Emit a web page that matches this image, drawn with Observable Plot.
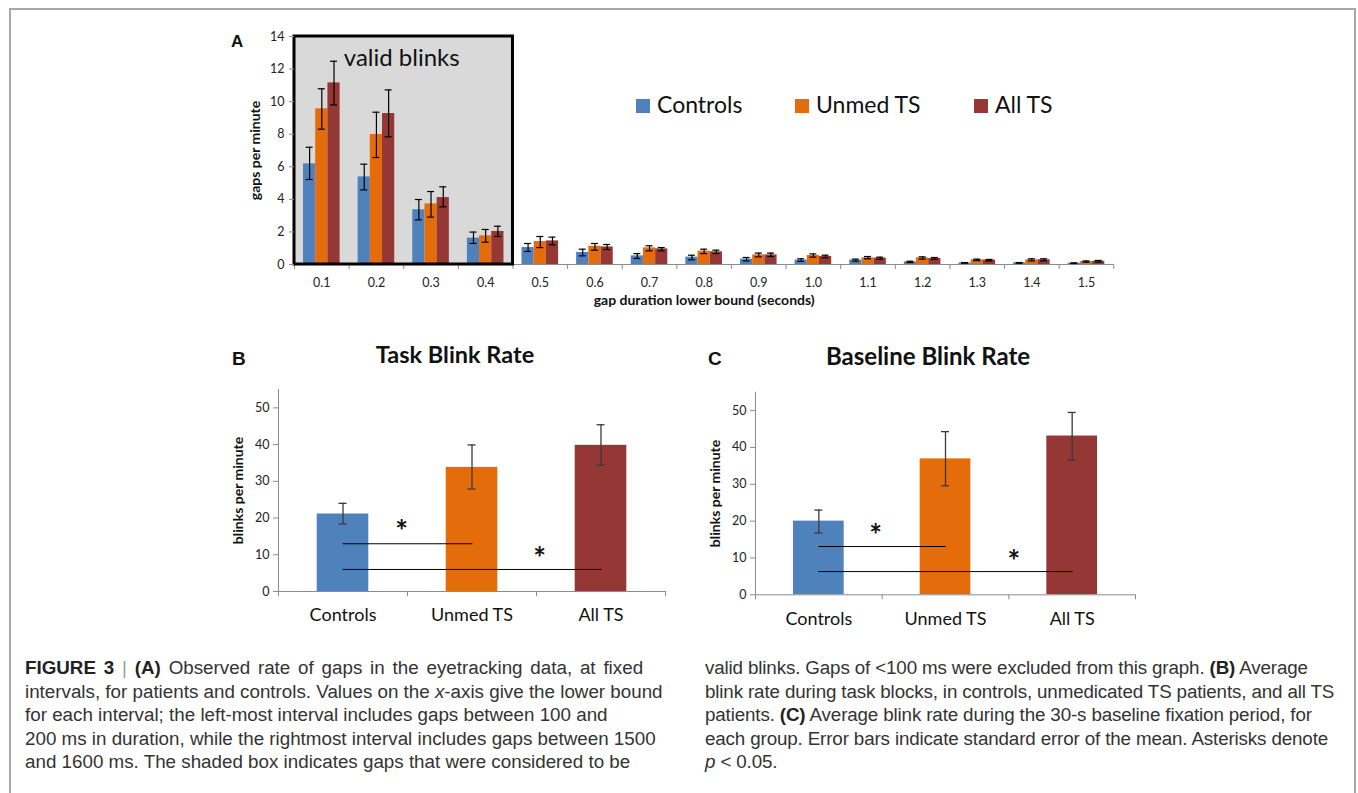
<!DOCTYPE html>
<html>
<head>
<meta charset="utf-8">
<script src="https://cdn.jsdelivr.net/npm/d3@7"></script>
<script src="https://cdn.jsdelivr.net/npm/@observablehq/plot@0.6"></script>
<style>
  body { margin: 0; background: #fff; }
  #page { position: relative; width: 1358px; height: 793px; overflow: hidden; background: #fff; font-family: Lato, sans-serif; }
  .abs { position: absolute; }
  .letter { position: absolute; font-family: "Liberation Sans", Arial, sans-serif; font-weight: bold; line-height: 1; color: #111; }
  .ptitle { position: absolute; font-family: Lato, sans-serif; font-weight: bold; line-height: 1.2; text-align: center; color: #111; white-space: nowrap; }
  .legitem { position: absolute; font-family: Lato, sans-serif; font-size: 23px; line-height: 1.2; color: #111; white-space: nowrap; }
  .legitem .sw { display: inline-block; width: 14px; height: 14px; margin-right: 7px; vertical-align: 0px; }
  .cap { position: absolute; font-family: "Liberation Sans", Arial, sans-serif; font-size: 18.8px; line-height: 23.5px; color: #333; white-space: nowrap; }
  .cap b { color: #222; }
  .cap .bar { color: #999; font-weight: normal; }
  svg { overflow: visible; }
</style>
</head>
<body>
<div id="page">
  <div class="abs" style="left:9px;top:8px;width:1343px;height:820px;border:2px solid #a8a8a8;"></div>

  <div class="letter" style="left:231px;top:33px;font-size:17px;">A</div>
  <div id="chartA" class="abs" style="left:200px;top:20px;"></div>
  <div id="legendA"></div>

  <div class="letter" style="left:232px;top:349px;font-size:19px;">B</div>
  <div class="ptitle" style="left:355px;top:340px;width:200px;font-size:23.5px;">Task Blink Rate</div>
  <div id="chartB" class="abs" style="left:200px;top:370px;"></div>

  <div class="letter" style="left:708px;top:349px;font-size:19px;">C</div>
  <div class="ptitle" style="left:826px;top:342px;width:200px;font-size:24px;">Baseline Blink Rate</div>
  <div id="chartC" class="abs" style="left:680px;top:370px;"></div>

  <div class="cap" style="left:25px;top:656px;">
    <div style="word-spacing:2.6px;"><b>FIGURE 3</b> <span class="bar">|</span> <b>(A)</b> Observed rate of gaps in the eyetracking data, at fixed</div>
    <div>intervals, for patients and controls. Values on the <i>x</i>-axis give the lower bound</div>
    <div>for each interval; the left-most interval includes gaps between 100 and</div>
    <div>200 ms in duration, while the rightmost interval includes gaps between 1500</div>
    <div>and 1600 ms. The shaded box indicates gaps that were considered to be</div>
  </div>
  <div class="cap" style="left:705px;top:656px;letter-spacing:-0.14px;">
    <div>valid blinks. Gaps of &lt;100 ms were excluded from this graph. <b>(B)</b> Average</div>
    <div>blink rate during task blocks, in controls, unmedicated TS patients, and all TS</div>
    <div>patients. <b>(C)</b> Average blink rate during the 30-s baseline fixation period, for</div>
    <div>each group. Error bars indicate standard error of the mean. Asterisks denote</div>
    <div><i>p</i> &lt; 0.05.</div>
  </div>
</div>
<script>
// ---------------- DATA ----------------
const bins = ["0.1","0.2","0.3","0.4","0.5","0.6","0.7","0.8","0.9","1.0","1.1","1.2","1.3","1.4","1.5"];
const groups = ["Controls", "Unmed TS", "All TS"];
const groupColors = ["#4F81BD", "#E46C0A", "#953735"];

// Panel A: gaps per minute (mean, lower and upper error bar ends)
const controlsMean = [6.18, 5.38, 3.36, 1.62, 1.04, 0.74, 0.53, 0.45, 0.33, 0.27, 0.27, 0.16, 0.10, 0.10, 0.08];
const controlsLow  = [5.22, 4.58, 2.74, 1.29, 0.80, 0.53, 0.37, 0.29, 0.22, 0.20, 0.20, 0.12, 0.08, 0.08, 0.06];
const controlsHigh = [7.20, 6.16, 3.99, 1.99, 1.29, 0.94, 0.67, 0.57, 0.43, 0.35, 0.33, 0.20, 0.12, 0.12, 0.10];
const unmedMean = [9.56, 7.98, 3.72, 1.76, 1.41, 1.12, 1.02, 0.82, 0.59, 0.55, 0.41, 0.41, 0.29, 0.29, 0.18];
const unmedLow  = [8.31, 6.57, 2.91, 1.37, 1.04, 0.88, 0.84, 0.67, 0.47, 0.45, 0.35, 0.33, 0.24, 0.22, 0.14];
const unmedHigh = [10.79, 9.35, 4.48, 2.15, 1.72, 1.29, 1.15, 0.94, 0.70, 0.65, 0.49, 0.47, 0.33, 0.35, 0.22];
const allMean = [11.15, 9.27, 4.11, 2.03, 1.45, 1.08, 0.96, 0.78, 0.59, 0.49, 0.39, 0.37, 0.27, 0.29, 0.20];
const allLow  = [9.80, 7.84, 3.54, 1.72, 1.21, 0.92, 0.84, 0.67, 0.49, 0.41, 0.32, 0.31, 0.22, 0.22, 0.15];
const allHigh = [12.48, 10.72, 4.77, 2.35, 1.68, 1.23, 1.04, 0.88, 0.70, 0.57, 0.45, 0.43, 0.31, 0.35, 0.25];
const yTicksA = [0, 2, 4, 6, 8, 10, 12, 14];
const validBox = [{from: "0.1", to: "0.4", low: 0, high: 14}];  // shaded "valid blinks" box: bins 0.1 – 0.4
const validLabel = [{bin: "0.2", y: 12.65, label: "valid blinks"}];

// Panel B: task blink rate
const taskMean = [21.1, 33.8, 39.8];
const taskLow  = [18.4, 27.9, 34.4];
const taskHigh = [24.0, 39.9, 45.4];
const taskSigFrom = ["Controls", "Controls"];
const taskSigTo = ["Unmed TS", "All TS"];
const taskSigY = [13.0, 6.0];
const taskStarAt = ["Controls", "Unmed TS"];
const taskStarY = [17.9, 10.7];

// Panel C: baseline blink rate
const baseMean = [20.0, 36.9, 43.1];
const baseLow  = [16.8, 29.6, 36.6];
const baseHigh = [23.0, 44.3, 49.5];
const baseSigFrom = ["Controls", "Controls"];
const baseSigTo = ["Unmed TS", "All TS"];
const baseSigY = [13.1, 6.3];
const baseStarAt = ["Controls", "Unmed TS"];
const baseStarY = [17.8, 10.6];
const yTicksBC = [0, 10, 20, 30, 40, 50];

// ---------------- PANEL A ----------------
const meansA = [controlsMean, unmedMean, allMean];
const lowsA = [controlsLow, unmedLow, allLow];
const highsA = [controlsHigh, unmedHigh, allHigh];
const rowsA = [];
groups.forEach((g, gi) => bins.forEach((b, i) => rowsA.push({bin: b, group: g, gi, mean: meansA[gi][i], lo: lowsA[gi][i], hi: highsA[gi][i]})));

const WA = 960, HA = 300, mlA = 94, mrA = 46.7, mtA = 16, mbA = 56;
const bandA = (WA - mlA - mrA) / bins.length;
const barW = 12.2, capA = 7;
const textColor = "#222", axisGray = "#8c8c8c";

const barMarksA = groups.flatMap((g, gi) => {
  const off = (gi - 1) * barW;
  const data = rowsA.filter(d => d.gi === gi);
  const il = bandA / 2 + off - barW / 2;
  return [
    Plot.barY(data, {x: "bin", y: "mean", fill: groupColors[gi], insetLeft: il, insetRight: bandA - il - barW}),
    Plot.ruleX(data, {x: "bin", y1: "lo", y2: "hi", dx: off, stroke: "#000", strokeWidth: 1.2}),
    Plot.tickY(data, {x: "bin", y: "lo", insetLeft: bandA / 2 + off - capA / 2, insetRight: bandA / 2 - off - capA / 2, stroke: "#000", strokeWidth: 1.2}),
    Plot.tickY(data, {x: "bin", y: "hi", insetLeft: bandA / 2 + off - capA / 2, insetRight: bandA / 2 - off - capA / 2, stroke: "#000", strokeWidth: 1.2})
  ];
});

const chartA = Plot.plot({
  width: WA, height: HA,
  marginLeft: mlA, marginRight: mrA, marginTop: mtA, marginBottom: mbA,
  x: {type: "band", domain: bins, padding: 0, round: false, label: null},
  y: {domain: [0, 14], label: null},
  style: {fontFamily: "Lato, sans-serif", fontSize: "12.5px", color: textColor, background: "transparent", overflow: "visible"},
  marks: [
    Plot.rect(validBox, {x1: "from", x2: "to", y1: "low", y2: "high", fill: "#d9d9d9"}),
    Plot.ruleY([0], {stroke: axisGray}),
    Plot.axisX({tickSize: 5, tickFormat: () => "", dx: -bandA / 2, stroke: axisGray, label: null}),
    Plot.axisX({ticks: [bins[bins.length - 1]], tickSize: 5, tickFormat: () => "", dx: bandA / 2, stroke: axisGray, label: null}),
    ...barMarksA,
    Plot.rect(validBox, {x1: "from", x2: "to", y1: "low", y2: "high", fill: "none", stroke: "#000", strokeWidth: 3}),
    Plot.text(validLabel, {x: "bin", y: "y", text: "label", dx: bandA / 2 - 2, fontSize: 24, fill: "#111"}),
    Plot.axisY({ticks: yTicksA, tickSize: 5, tickPadding: 5, stroke: axisGray, fill: textColor, label: null}),
    Plot.axisX({tickSize: 0, tickPadding: 14, fill: textColor, label: null}),
    Plot.text(["gaps per minute"], {text: d => d, frameAnchor: "left", textAnchor: "middle", lineAnchor: "middle", rotate: -90, dx: -39, fontWeight: "bold", fontSize: 14, fill: "#111"}),
    Plot.text(["gap duration lower bound (seconds)"], {text: d => d, frameAnchor: "bottom", textAnchor: "middle", lineAnchor: "middle", dy: 36, fontWeight: "bold", fontSize: 14, fill: "#111"})
  ]
});
document.getElementById("chartA").append(chartA);

// Legend (inside panel A)
const legendLefts = [636, 795, 974];
const legend = document.getElementById("legendA");
groups.forEach((g, i) => {
  const item = document.createElement("div");
  item.className = "legitem";
  item.style.left = legendLefts[i] + "px";
  item.style.top = "91px";
  item.innerHTML = `<span class="sw" style="background:${groupColors[i]}"></span>${g}`;
  legend.append(item);
});

// ---------------- PANELS B & C ----------------
function groupChart({means, lows, highs, sigFrom, sigTo, sigY, starAt, starY, width, height, ml, mr, mt, mb, starDx}) {
  const rows = groups.map((g, i) => ({group: g, mean: means[i], lo: lows[i], hi: highs[i]}));
  const sigPoints = sigFrom.flatMap((f, i) => [{id: i, group: f, y: sigY[i]}, {id: i, group: sigTo[i], y: sigY[i]}]);
  const stars = starAt.map((g, i) => ({group: g, y: starY[i], i}));
  const step = (width - ml - mr) / groups.length;
  const cap = 8;
  return Plot.plot({
    width, height, marginLeft: ml, marginRight: mr, marginTop: mt, marginBottom: mb,
    x: {type: "band", domain: groups, padding: 0, round: false, label: null},
    y: {domain: [0, 55], label: null},
    color: {domain: groups, range: groupColors},
    style: {fontFamily: "Lato, sans-serif", fontSize: "12.5px", color: textColor, background: "transparent", overflow: "visible"},
    marks: [
      Plot.barY(rows, {x: "group", y: "mean", fill: "group", insetLeft: 0.3 * step, insetRight: 0.3 * step}),
      Plot.ruleY([0], {stroke: axisGray}),
      Plot.ruleX([groups[0]], {dx: -step / 2, stroke: axisGray}),
      Plot.axisX({tickSize: 5, tickFormat: () => "", dx: -step / 2, stroke: axisGray, label: null}),
      Plot.axisX({ticks: [groups[groups.length - 1]], tickSize: 5, tickFormat: () => "", dx: step / 2, stroke: axisGray, label: null}),
      Plot.ruleX(rows, {x: "group", y1: "lo", y2: "hi", stroke: "#3a3a3a", strokeWidth: 1.3}),
      Plot.tickY(rows, {x: "group", y: "lo", insetLeft: step / 2 - cap / 2, insetRight: step / 2 - cap / 2, stroke: "#3a3a3a", strokeWidth: 1.3}),
      Plot.tickY(rows, {x: "group", y: "hi", insetLeft: step / 2 - cap / 2, insetRight: step / 2 - cap / 2, stroke: "#3a3a3a", strokeWidth: 1.3}),
      Plot.line(sigPoints, {x: "group", y: "y", z: "id", stroke: "#000", strokeWidth: 1}),
      ...stars.map((s) => Plot.text([s], {x: "group", y: "y", text: () => "*", dx: starDx[s.i], dy: 7, fontSize: 30, fontWeight: "bold", fill: "#111"})),
      Plot.axisY({ticks: yTicksBC, tickSize: 5, tickPadding: 4, stroke: axisGray, fill: textColor, label: null}),
      Plot.axisX({tickSize: 0, tickPadding: 17, fontSize: 18, fill: "#111", label: null}),
      Plot.text(["blinks per minute"], {text: d => d, frameAnchor: "left", textAnchor: "middle", lineAnchor: "middle", rotate: -90, dx: -40, fontWeight: "bold", fontSize: 14, fill: "#111"})
    ]
  });
}

document.getElementById("chartB").append(groupChart({
  means: taskMean, lows: taskLow, highs: taskHigh,
  sigFrom: taskSigFrom, sigTo: taskSigTo, sigY: taskSigY, starAt: taskStarAt, starY: taskStarY,
  width: 480, height: 270, ml: 78, mr: 15, mt: 19, mb: 49, starDx: [58.5, 67.5]
}));
document.getElementById("chartC").append(groupChart({
  means: baseMean, lows: baseLow, highs: baseHigh,
  sigFrom: baseSigFrom, sigTo: baseSigTo, sigY: baseSigY, starAt: baseStarAt, starY: baseStarY,
  width: 480, height: 270, ml: 75, mr: 25, mt: 21.7, mb: 45.7, starDx: [56.7, 68.3]
}));
</script>
</body>
</html>
